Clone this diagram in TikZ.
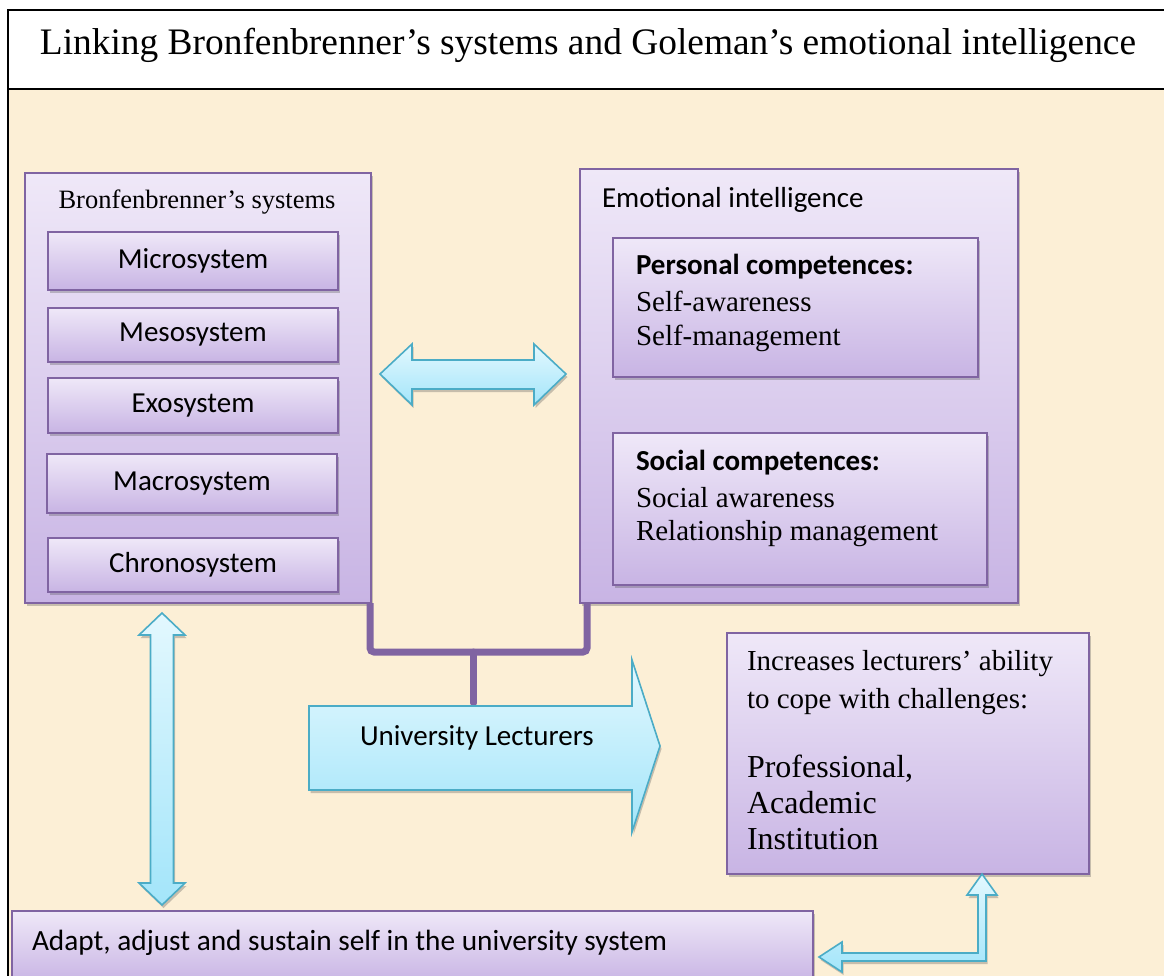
\documentclass[tikz,border=0pt]{standalone}
\usepackage{fontspec}
\setmainfont{Liberation Serif}
\newfontfamily\calfont{Carlito}
\usetikzlibrary{shadows,calc}

\definecolor{frameP}{HTML}{8064A2}
\definecolor{lavTop}{HTML}{EFE8F8}
\definecolor{lavBot}{HTML}{C8B4E4}
\definecolor{aquaTop}{HTML}{E3F8FE}
\definecolor{aquaBot}{HTML}{A3E5FA}
\definecolor{aquaLine}{HTML}{4BACC6}
\definecolor{parch}{HTML}{FCEFD6}

\newcommand\fsz[1]{\fontsize{#1}{#1}\selectfont}

\tikzset{
  boxshadow/.style={drop shadow={shadow xshift=1.5pt, shadow yshift=-3pt, opacity=0.3, fill=black!70}},
  panel/.style={draw=frameP, line width=1.6pt, top color=lavTop, bottom color=lavBot,
    anchor=north west, inner sep=0pt, outer sep=0pt, boxshadow},
  sysbox/.style={panel, minimum width=290, font=\calfont\fsz{29}},
  label/.style={inner sep=0pt, outer sep=0pt, anchor=base west},
  timestext/.style={label, font=\fsz{29}},
  blockarrow/.style={draw=aquaLine, line width=1.6pt, top color=aquaTop, bottom color=aquaBot,
    line join=miter, boxshadow},
  bracket/.style={draw=frameP, line width=7pt, rounded corners=4pt},
}

\begin{document}
\begin{tikzpicture}[x=1pt, y=-1pt]
\useasboundingbox (0,0) rectangle (1164,976);
\clip (0,0) rectangle (1164,976);

% page, heading strip and parchment field
\fill[white] (0,0) rectangle (1164,976);
\fill[parch] (8,89) rectangle (1170,980);
\draw[black, line width=1.2pt] (1170,10) -- (8,10) -- (8,985);
\draw[black, line width=1.2pt] (8,89) -- (1170,89);
\node[inner sep=0pt, anchor=base] (title) at (588,55)
  {\fsz{37.4}Linking Bronfenbrenner’s systems and Goleman’s emotional intelligence};

% Bronfenbrenner panel
\node[panel, minimum width=346, minimum height=430] (bsys) at (25,173) {};
\node[inner sep=0pt, anchor=base, font=\fsz{26.5}] (bsysT) at (197,209) {Bronfenbrenner’s systems};
\node[sysbox, minimum height=58] (micro)  at (48,232) {Microsystem};
\node[sysbox, minimum height=54] (meso)   at (48,308) {Mesosystem};
\node[sysbox, minimum height=55] (exo)    at (48,378) {Exosystem};
\node[sysbox, minimum height=59] (macro)  at (47,454) {Macrosystem};
\node[sysbox, minimum height=54] (chrono) at (48,538) {Chronosystem};

% emotional intelligence panel
\node[panel, minimum width=438, minimum height=434] (ei) at (580,169) {};
\node[label, font=\calfont\fsz{29}] (eiT) at (602,208) {Emotional intelligence};
\node[panel, minimum width=365, minimum height=139] (pers) at (613,238) {};
\node[label, font=\calfont\bfseries\fsz{29}] (persT) at (636,275) {Personal competences:};
\node[timestext] (persA) at (636,311) {Self-awareness};
\node[timestext] (persB) at (636,345) {Self-management};
\node[panel, minimum width=374, minimum height=152] (soc) at (613,433) {};
\node[label, font=\calfont\bfseries\fsz{29}] (socT) at (636,470) {Social competences:};
\node[timestext] (socA) at (636,507) {Social awareness};
\node[timestext] (socB) at (636,540) {Relationship management};

% outcome panel
\node[panel, minimum width=362, minimum height=241] (cope) at (727,633) {};
\node[timestext] (copeA) at (747,670) {Increases lecturers’ ability};
\node[timestext] (copeB) at (747,708) {to cope with challenges:};
\node[label, font=\fsz{32}] (copeC) at (747,777) {Professional,};
\node[label, font=\fsz{32}] (copeD) at (747,813) {Academic};
\node[label, font=\fsz{32}] (copeE) at (747,849) {Institution};

% adaptation strip
\node[panel, minimum width=801, minimum height=72] (adapt) at (12,911) {};
\node[label, font=\calfont\fsz{29.3}] (adaptT) at (32,950) {Adapt, adjust and sustain self in the university system};

% bracket joining both panels onto the lecturers arrow
\coordinate (brL) at (bsys.south east);
\coordinate (brR) at ($(ei.south west)+(7,0)$);
\coordinate (brM) at ($(brL)!0.475!(brR)$);
\coordinate (ulTop) at (brM |- 0,706);
\draw[bracket] ($(brL)+(-1,0)$) -- ($(brL)+(-1,49)$) -- ($(brR)+(0,49)$) -- (brR);
\draw[bracket, line cap=round] ($(brM)+(0,49)$) -- ($(ulTop)+(0,-3)$);

% University Lecturers arrow
\draw[blockarrow] (309,706) -- (632,706) -- (632,660) -- (660,746) -- (632,832)
  -- (632,790) -- (309,790) -- cycle;
\node[label, font=\calfont\fsz{29}] (ulT) at (360,745) {University Lecturers};

% two-way arrow between the panels
\draw[blockarrow] (380,374) -- (412,344) -- (412,360) -- (534,360) -- (534,344)
  -- (566,374) -- (534,405) -- (534,389) -- (412,389) -- (412,405) -- cycle;

% two-way arrow between systems panel and adaptation strip
\draw[blockarrow] (162,613) -- (185,635) -- (173.5,635) -- (173.5,883) -- (185,883)
  -- (162,905) -- (139,883) -- (150.5,883) -- (150.5,635) -- (139,635) -- cycle;

% elbow arrow between outcome panel and adaptation strip
\draw[blockarrow] (982,874) -- (997,895) -- (986,895) -- (986,961) -- (842,961)
  -- (842,972) -- (819,957) -- (842,942) -- (842,953) -- (978,953) -- (978,895)
  -- (967,895) -- cycle;
\end{tikzpicture}
\end{document}
